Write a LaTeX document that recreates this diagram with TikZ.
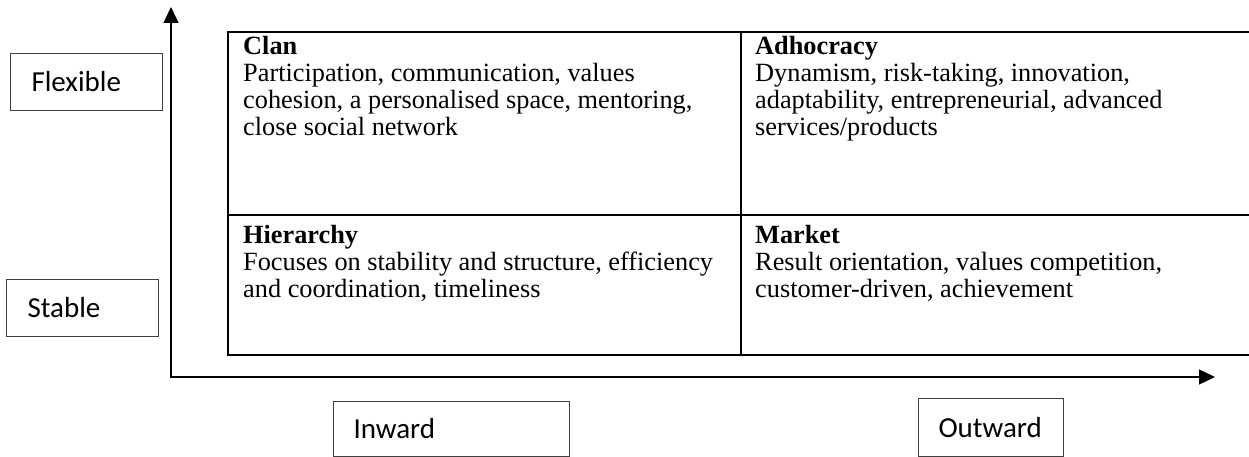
\documentclass[tikz,border=0pt]{standalone}
\usepackage{fontspec}
\setmainfont{Liberation Serif}
\newfontfamily\labelfont{Carlito}
\usetikzlibrary{arrows.meta}
\begin{document}
\begin{tikzpicture}[x=1pt,y=-1pt,
  gridline/.style={line width=2pt, black},
  axisline/.style={line width=1.2pt, black,
    {Triangle[length=16pt,width=15pt]}-{Triangle[length=16pt,width=15pt]}},
  tag/.style={draw=black!75, line width=1pt, anchor=north west,
    inner xsep=21pt, inner ysep=0pt, minimum height=57pt, align=left,
    font=\labelfont\fontsize{29}{33}\selectfont},
  cell/.style={anchor=north west, inner sep=0pt, align=left,
    font=\fontsize{26.3}{27}\selectfont}]
\useasboundingbox (0,0) rectangle (1249,457);

% axes
\coordinate (origin) at (171,377);
\coordinate (ytip) at (171,7);
\coordinate (xtip) at (1215,377);
\draw[axisline] (ytip) -- (origin) -- (xtip);

% the four-quadrant table (open to the right)
\coordinate (tnw) at (228,32);
\coordinate (tsw) at (228,355);
\coordinate (tw)  at (228,215);
\coordinate (tne) at (1249,32);
\coordinate (tse) at (1249,355);
\coordinate (te)  at (1249,215);
\coordinate (tn)  at (741,32);
\coordinate (ts)  at (741,355);
\draw[gridline] (tne) -- (tnw) -- (tsw) -- (tse);
\draw[gridline] (tw) -- (te);
\draw[gridline] (tn) -- (ts);

% quadrant texts
\node[cell] (clan) at (243,36) {\textbf{Clan}\\
  Participation, communication, values\\
  cohesion, a personalised space, mentoring,\\
  close social network};
\node[cell] (adhoc) at (755,36) {\textbf{Adhocracy}\\
  Dynamism, risk-taking, innovation,\\
  adaptability, entrepreneurial, advanced\\
  services/products};
\node[cell] (hier) at (243,225) {\textbf{Hierarchy}\\
  Focuses on stability and structure, efficiency\\
  and coordination, timeliness};
\node[cell] (market) at (755,225) {\textbf{Market}\\
  Result orientation, values competition,\\
  customer-driven, achievement};

% axis labels
\node[tag, text width=110pt] (flexible) at (10,53) {Flexible};
\node[tag, text width=110pt] (stable) at (6,279) {Stable};
\node[tag, text width=196pt, inner xsep=20pt, minimum height=55pt] (inward) at (333,401) {Inward};
\node[tag, text width=105pt, inner xsep=20pt, minimum height=58pt] (outward) at (918,398) {Outward};
\end{tikzpicture}
\end{document}
